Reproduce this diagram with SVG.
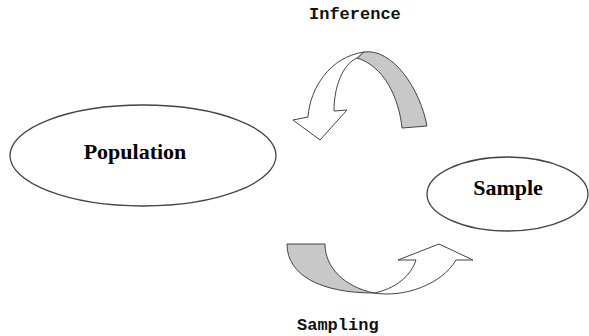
<svg xmlns="http://www.w3.org/2000/svg" width="589" height="336" viewBox="0 0 589 336">
<style>
.node ellipse{fill:#fff;stroke:#444;stroke-width:1.3}
.node text{font-family:"Liberation Serif","Times New Roman",serif;font-weight:bold;font-size:22px;fill:#000;text-anchor:middle}
.lbl{font-family:"Liberation Mono","Courier New",monospace;font-weight:bold;font-size:17px;fill:#111}
.front{fill:#fff;stroke:#444;stroke-width:1;stroke-linejoin:round}
.back{fill:#c8c8c8;stroke:#444;stroke-width:1;stroke-linejoin:round}
</style>
<rect width="589" height="336" fill="#fff"/>
<g id="population" class="node">
<ellipse cx="143" cy="155.5" rx="133" ry="50.5"/>
<text x="135" y="158.5">Population</text>
</g>
<g id="sample" class="node">
<ellipse cx="507.5" cy="194" rx="80.5" ry="37"/>
<text x="508" y="195">Sample</text>
</g>
<g id="connectors">
<g id="inference">
<path class="back" d="M364,52 C392,48 420,88 427,126 L402,128 C399,98 384,66 357,58 Z"/>
<path class="front" d="M308,117 C310,88 330,57 364,52 L357,58 C343,64 334,86 334,111 L347,110 L320,140 L293,120 Z"/>
<text class="lbl" x="309" y="19">Inference</text>
</g>
<g id="sampling">
<path class="back" d="M287,244 L325,244 C325,268 345,287 374,293 C322,293 287,276 287,244 Z"/>
<path class="front" d="M374,293 C405,298 442,284 456,260 L473,260 L439,244 L398,260 L416,260 C411,276 395,289 374,293 Z"/>
<text class="lbl" x="297" y="329.5">Sampling</text>
</g>
</g>
</svg>
